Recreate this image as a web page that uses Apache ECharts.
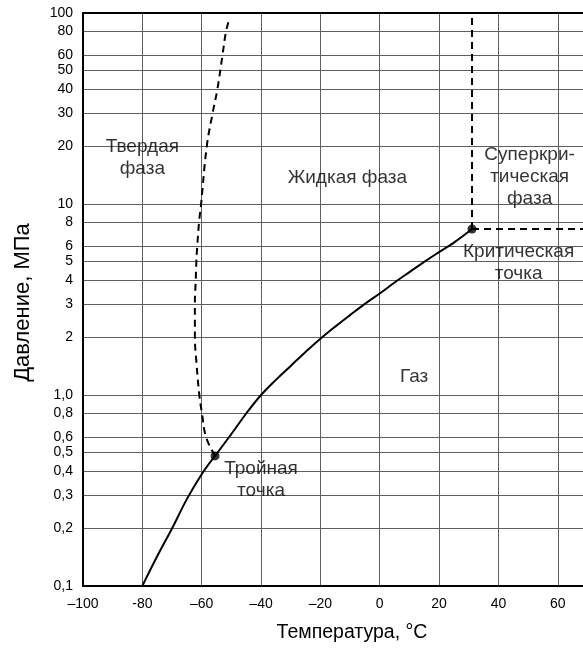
<!DOCTYPE html>
<html>
<head>
<meta charset="utf-8">
<script src="https://cdn.jsdelivr.net/npm/echarts@6/dist/echarts.min.js"></script>
<style>
  html, body { margin: 0; padding: 0; background: #fff; }
  #chart { width: 583px; height: 648px; }
</style>
</head>
<body>
<div id="chart"></div>
<script>
// Axis ticks
const tempTicks = [-100, -80, -60, -40, -20, 0, 20, 40, 60];
const tempTickLabels = ['–100', '-80', '–60', '–40', '–20', '0', '20', '40', '60'];
const pressureTicks = [0.1, 0.2, 0.3, 0.4, 0.5, 0.6, 0.8, 1, 2, 3, 4, 5, 6, 8, 10, 20, 30, 40, 50, 60, 80, 100];

// Phase boundaries of CO2: [temperature °C, pressure MPa]
const sublimation = [[-80, 0.1], [-75, 0.143], [-70, 0.2], [-65, 0.285], [-60, 0.385], [-55.5, 0.48]];
const boiling = [[-55.5, 0.48], [-50, 0.625], [-45, 0.8], [-40, 1.0], [-35, 1.2], [-30, 1.42], [-25, 1.68], [-20, 1.97], [-15, 2.28], [-10, 2.62], [-5, 3.0], [0, 3.4], [5, 3.88], [10, 4.4], [15, 4.98], [20, 5.6], [25, 6.28], [31.1, 7.4]];
const melting = [[-55.5, 0.48], [-58.5, 0.6], [-59.9, 0.8], [-60.8, 1.0], [-61.8, 1.5], [-62.3, 2], [-62.3, 3], [-62.0, 4], [-61.8, 5], [-61.5, 6], [-60.9, 8], [-60.2, 10], [-58.3, 20], [-56.3, 30], [-54.7, 40], [-53.0, 60], [-51.8, 80], [-50.5, 95]];
const criticalIsotherm = [[31.1, 7.4], [31.1, 95]];
const criticalIsobar = [[31.1, 7.4], [68.5, 7.4]];
const specialPoints = [[-55.5, 0.48], [31.1, 7.4]];

// Region captions and where they sit in data space
const captions = ['Твердая\nфаза', 'Жидкая фаза', 'Суперкри-\nтическая\nфаза', 'Критическая\nточка', 'Тройная\nточка', 'Газ'];
const captionAnchors = [[-80, 17.5], [-10.9, 13.8], [50.5, 13.9], [46.8, 4.9], [-40, 0.36], [11.6, 1.25]];

const FONT = '"Liberation Sans", Arial, sans-serif';
const tMin = -100, tMax = 68.5;

function pressureLabel(v) {
  const r = Math.round(v * 10) / 10;
  return r >= 2 ? String(Math.round(r)) : r.toFixed(1).replace('.', ',');
}

const chart = echarts.init(document.getElementById('chart'), null, { renderer: 'canvas' });

const solid = { color: '#000', width: 2 };
const dashed = { color: '#000', width: 2, type: [7, 5] };

chart.setOption({
  animation: false,
  backgroundColor: '#fff',
  textStyle: { fontFamily: FONT },
  grid: { left: 83, right: 0, top: 13, bottom: 60, containLabel: false },
  xAxis: [{
    type: 'value',
    min: tMin, max: tMax,
    name: 'Температура, °C',
    nameLocation: 'middle',
    nameGap: 37,
    nameTextStyle: { fontSize: 19.5, color: '#000', fontFamily: FONT, padding: [0, 0, 0, 38] },
    axisLine: { onZero: false, lineStyle: { color: '#000', width: 2 } },
    axisTick: { show: false, customValues: tempTicks },
    axisLabel: {
      customValues: tempTicks,
      margin: 11,
      fontSize: 14,
      color: '#000',
      fontFamily: FONT,
      formatter: v => tempTickLabels[tempTicks.indexOf(Math.round(v))] || ''
    },
    splitLine: { show: true, lineStyle: { color: '#5e5e5e', width: 1 } }
  }, {
    type: 'value',
    position: 'top',
    min: tMin, max: tMax,
    axisLine: { onZero: false, lineStyle: { color: '#000', width: 2 } },
    axisTick: { show: false },
    axisLabel: { show: false },
    splitLine: { show: false }
  }],
  yAxis: {
    type: 'log',
    logBase: 10,
    min: 0.1, max: 100,
    name: 'Давление, МПа',
    nameLocation: 'middle',
    nameGap: 49,
    nameTextStyle: { fontSize: 22, color: '#000', fontFamily: FONT, padding: [0, 6, 0, 0] },
    axisLine: { onZero: false, lineStyle: { color: '#000', width: 2 } },
    axisTick: { show: false, customValues: pressureTicks },
    axisLabel: {
      customValues: pressureTicks,
      margin: 10,
      fontSize: 14,
      color: '#000',
      fontFamily: FONT,
      formatter: pressureLabel
    },
    splitLine: { show: true, lineStyle: { color: '#5e5e5e', width: 1 } }
  },
  series: [
    { type: 'line', data: sublimation, showSymbol: false, smooth: 0.4, lineStyle: solid, silent: true },
    { type: 'line', data: boiling, showSymbol: false, smooth: 0.4, lineStyle: solid, silent: true },
    { type: 'line', data: melting, showSymbol: false, smooth: 0.4, lineStyle: dashed, silent: true },
    { type: 'line', data: criticalIsotherm, showSymbol: false, lineStyle: dashed, silent: true },
    { type: 'line', data: criticalIsobar, showSymbol: false, lineStyle: dashed, silent: true },
    { type: 'scatter', data: specialPoints, symbolSize: 9, itemStyle: { color: '#000' }, silent: true, z: 5 },
    {
      type: 'scatter',
      silent: true,
      symbolSize: 0,
      z: 6,
      data: captions.map((c, i) => ({ name: c, value: captionAnchors[i] })),
      label: {
        show: true,
        position: 'inside',
        formatter: p => p.name,
        fontSize: 19,
        lineHeight: 22,
        align: 'center',
        color: '#000',
        fontFamily: FONT
      }
    }
  ]
});
</script>
</body>
</html>
